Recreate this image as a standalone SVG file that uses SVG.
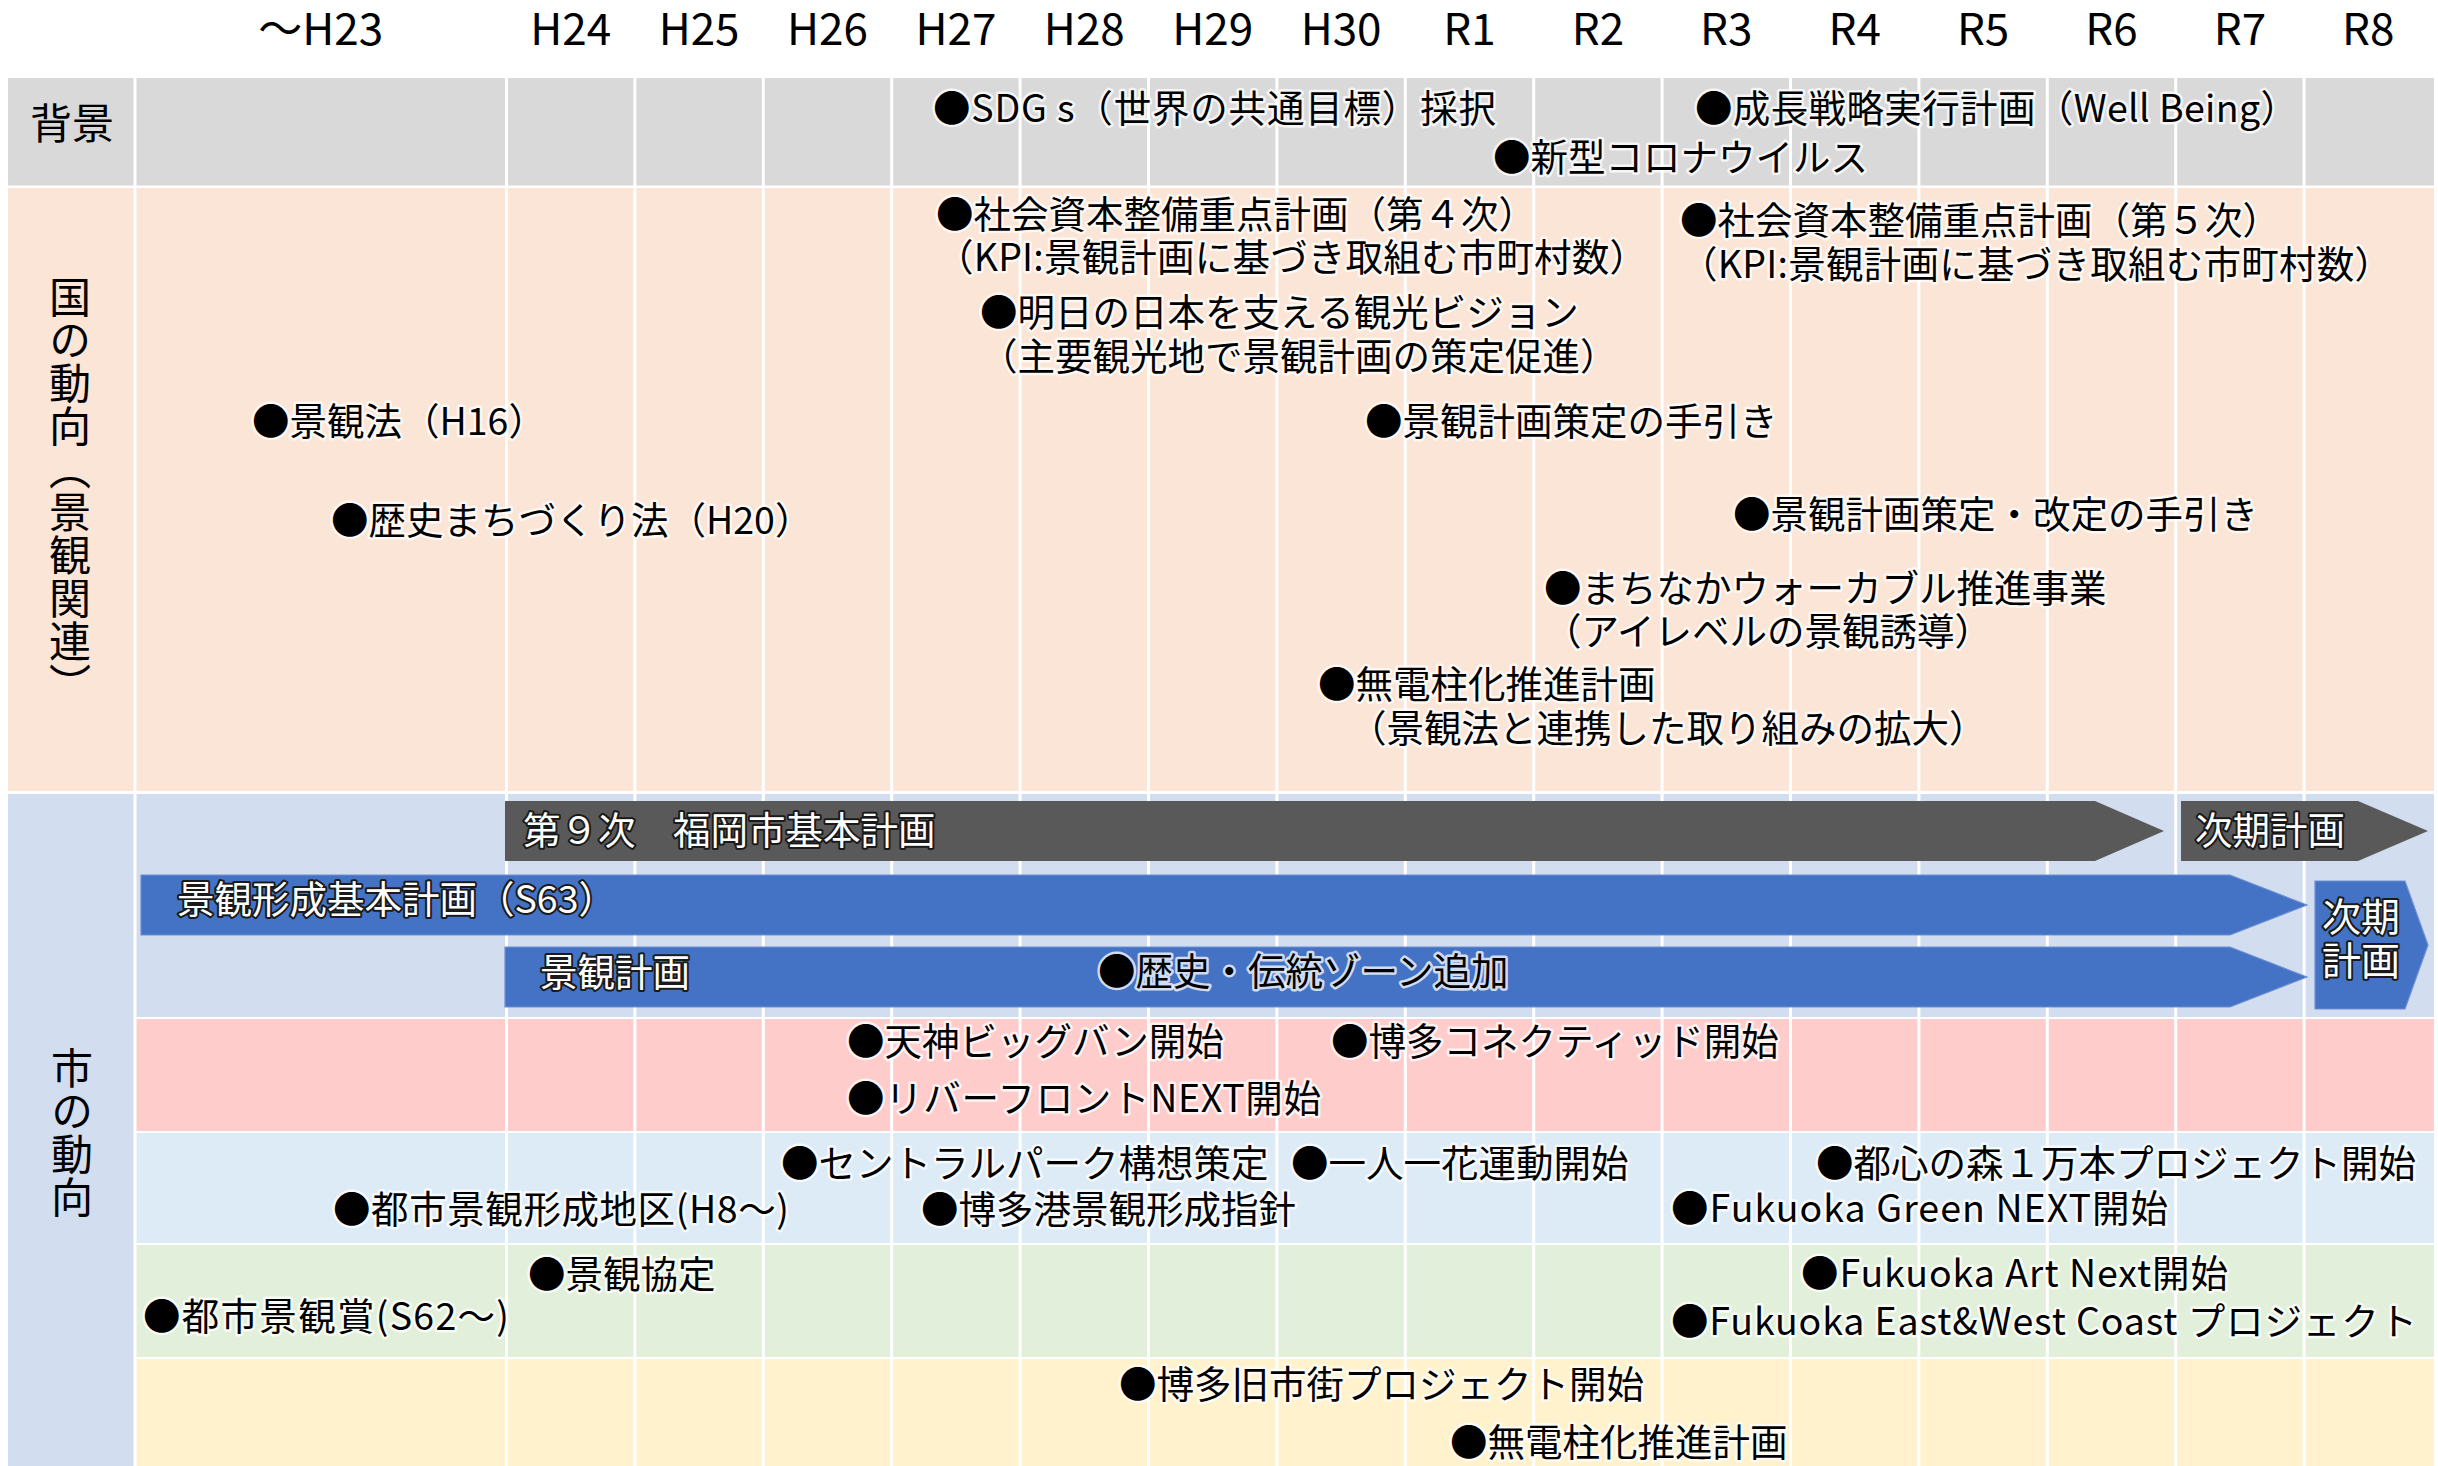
<svg xmlns="http://www.w3.org/2000/svg" width="2438" height="1466" viewBox="0 0 2438 1466">
<style>
text{font-family:"Noto Sans CJK JP","Noto Sans",sans-serif}
.h{font-size:44px;fill:#000;text-anchor:middle}
.lb{font-size:42px;fill:#000}
.v{font-size:42px;fill:#000;writing-mode:vertical-rl;letter-spacing:1px}
.t{font-size:37.5px;fill:#000;stroke:#fff;stroke-width:5px;stroke-opacity:.75;paint-order:stroke;stroke-linejoin:round}
.w{font-size:37.5px;fill:#fff;stroke:#1a1a1a;stroke-width:4px;paint-order:stroke;stroke-linejoin:round}
.grid line{stroke:#fff;stroke-width:3}
.dark{fill:#595959}
.blue{fill:#4472C4;stroke:#6E8FD2;stroke-width:1.2}
</style>
<rect x="0" y="0" width="2438" height="1466" fill="#fff"/>
<g id="header">
<text class="h" x="320.7" y="45">～H23</text>
<text class="h" x="570.7" y="45">H24</text>
<text class="h" x="699.1" y="45">H25</text>
<text class="h" x="827.5" y="45">H26</text>
<text class="h" x="955.9" y="45">H27</text>
<text class="h" x="1084.3" y="45">H28</text>
<text class="h" x="1212.7" y="45">H29</text>
<text class="h" x="1341.1" y="45">H30</text>
<text class="h" x="1469.5" y="45">R1</text>
<text class="h" x="1597.9" y="45">R2</text>
<text class="h" x="1726.3" y="45">R3</text>
<text class="h" x="1854.7" y="45">R4</text>
<text class="h" x="1983.1" y="45">R5</text>
<text class="h" x="2111.5" y="45">R6</text>
<text class="h" x="2239.9" y="45">R7</text>
<text class="h" x="2368.3" y="45">R8</text>
</g>
<g id="rows">
<rect x="8" y="78" width="2426" height="107.5" fill="#D9D9D9"/>
<rect x="8" y="188" width="2426" height="603" fill="#FBE5D6"/>
<rect x="8" y="794" width="2426" height="223" fill="#D2DEEF"/>
<rect x="8" y="1017" width="127" height="449" fill="#D2DEEF"/>
<rect x="136" y="1019" width="2298" height="112" fill="#FFCCCC"/>
<rect x="136" y="1133" width="2298" height="110" fill="#DDEBF7"/>
<rect x="136" y="1245" width="2298" height="112" fill="#E2EFDA"/>
<rect x="136" y="1359" width="2298" height="107" fill="#FFF2CC"/>
</g>
<g class="grid" id="grid">
<line x1="135" y1="78" x2="135" y2="1466"/>
<line x1="506.5" y1="78" x2="506.5" y2="1466"/>
<line x1="634.9" y1="78" x2="634.9" y2="1466"/>
<line x1="763.3" y1="78" x2="763.3" y2="1466"/>
<line x1="891.7" y1="78" x2="891.7" y2="1466"/>
<line x1="1020.1" y1="78" x2="1020.1" y2="1466"/>
<line x1="1148.5" y1="78" x2="1148.5" y2="1466"/>
<line x1="1276.9" y1="78" x2="1276.9" y2="1466"/>
<line x1="1405.3" y1="78" x2="1405.3" y2="1466"/>
<line x1="1533.7" y1="78" x2="1533.7" y2="1466"/>
<line x1="1662.1" y1="78" x2="1662.1" y2="1466"/>
<line x1="1790.5" y1="78" x2="1790.5" y2="1466"/>
<line x1="1918.9" y1="78" x2="1918.9" y2="1466"/>
<line x1="2047.3" y1="78" x2="2047.3" y2="1466"/>
<line x1="2175.7" y1="78" x2="2175.7" y2="1466"/>
<line x1="2304.1" y1="78" x2="2304.1" y2="1466"/>
</g>
<g id="labels">
<text class="lb" x="30" y="139">背景</text>
<text class="v" x="70" y="276">国の動向（景観関連）</text>
<text class="v" x="72" y="1047">市の動向</text>
</g>
<g id="connectors"></g>
<g id="bars">
<g id="plan9"><polygon class="dark" points="505,801 2095,801 2164,831 2095,861 505,861"/><text class="w" x="523" y="844">第９次　福岡市基本計画</text></g>
<g id="plan-next"><polygon class="dark" points="2181,801 2358,801 2428,831 2358,861 2181,861"/><text class="w" x="2195" y="844">次期計画</text></g>
<g id="keikan-kihon"><polygon class="blue" points="141,875 2230,875 2307,905 2230,935 141,935"/><text class="w" x="177" y="913">景観形成基本計画（S63）</text></g>
<g id="keikan-plan"><polygon class="blue" points="505,947 2230,947 2307,977 2230,1007 505,1007"/><text class="w" x="540" y="986">景観計画</text><text class="t" x="1098" y="985">●歴史・伝統ゾーン追加</text></g>
<g id="keikan-next"><polygon class="blue" points="2315,881 2405,881 2428,945 2405,1009 2315,1009"/><text class="w" x="2322" y="931" style="font-size:39px">次期</text><text class="w" x="2322" y="975" style="font-size:39px">計画</text></g>
</g>
<g id="background-items">
<g id="sdgs"><text class="t" x="933" y="122" textLength="563">●SDG s（世界の共通目標）採択</text></g>
<g id="growth"><text class="t" x="1695" y="122" textLength="603">●成長戦略実行計画（Well Being）</text></g>
<g id="corona"><text class="t" x="1493" y="171">●新型コロナウイルス</text></g>
</g>
<g id="national-items">
<g id="shakai4"><text class="t" x="936" y="228">●社会資本整備重点計画（第４次）</text><text class="t" x="936" y="271" textLength="711">（KPI:景観計画に基づき取組む市町村数）</text></g>
<g id="ashita"><text class="t" x="980" y="326">●明日の日本を支える観光ビジョン</text><text class="t" x="980" y="370">（主要観光地で景観計画の策定促進）</text></g>
<g id="keikanho"><text class="t" x="252" y="435">●景観法（H16）</text></g>
<g id="rekishi"><text class="t" x="331" y="534">●歴史まちづくり法（H20）</text></g>
<g id="tebiki"><text class="t" x="1365" y="435">●景観計画策定の手引き</text></g>
<g id="tebiki2"><text class="t" x="1733" y="528">●景観計画策定・改定の手引き</text></g>
<g id="walkable"><text class="t" x="1544" y="602">●まちなかウォーカブル推進事業</text><text class="t" x="1544" y="645">（アイレベルの景観誘導）</text></g>
<g id="mudenchu"><text class="t" x="1318" y="698">●無電柱化推進計画</text><text class="t" x="1349" y="742">（景観法と連携した取り組みの拡大）</text></g>
<g id="shakai5"><text class="t" x="1680" y="234">●社会資本整備重点計画（第５次）</text><text class="t" x="1680" y="278" textLength="712">（KPI:景観計画に基づき取組む市町村数）</text></g>
</g>
<g id="city-items">
<g id="tenjin"><text class="t" x="847" y="1055">●天神ビッグバン開始</text></g>
<g id="hakata-connected"><text class="t" x="1331" y="1055">●博多コネクティッド開始</text></g>
<g id="riverfront"><text class="t" x="847" y="1112" textLength="474">●リバーフロントNEXT開始</text></g>
<g id="central-park"><text class="t" x="781" y="1177">●セントラルパーク構想策定</text></g>
<g id="hitori"><text class="t" x="1291" y="1177">●一人一花運動開始</text></g>
<g id="toshin-mori"><text class="t" x="1816" y="1177">●都心の森１万本プロジェクト開始</text></g>
<g id="toshi-chiku"><text class="t" x="333" y="1223" textLength="456">●都市景観形成地区(H8～)</text></g>
<g id="hakata-port"><text class="t" x="921" y="1223">●博多港景観形成指針</text></g>
<g id="green-next"><text class="t" x="1671" y="1222" textLength="497">●Fukuoka Green NEXT開始</text></g>
<g id="kyotei"><text class="t" x="528" y="1288">●景観協定</text></g>
<g id="toshi-sho"><text class="t" x="143" y="1330" textLength="366">●都市景観賞(S62～)</text></g>
<g id="art-next"><text class="t" x="1801" y="1287" textLength="427">●Fukuoka Art Next開始</text></g>
<g id="east-west"><text class="t" x="1671" y="1335" textLength="746">●Fukuoka East&amp;West Coast プロジェクト</text></g>
<g id="kyushigai"><text class="t" x="1119" y="1398">●博多旧市街プロジェクト開始</text></g>
<g id="mudenchu-city"><text class="t" x="1450" y="1456">●無電柱化推進計画</text></g>
</g>
</svg>
